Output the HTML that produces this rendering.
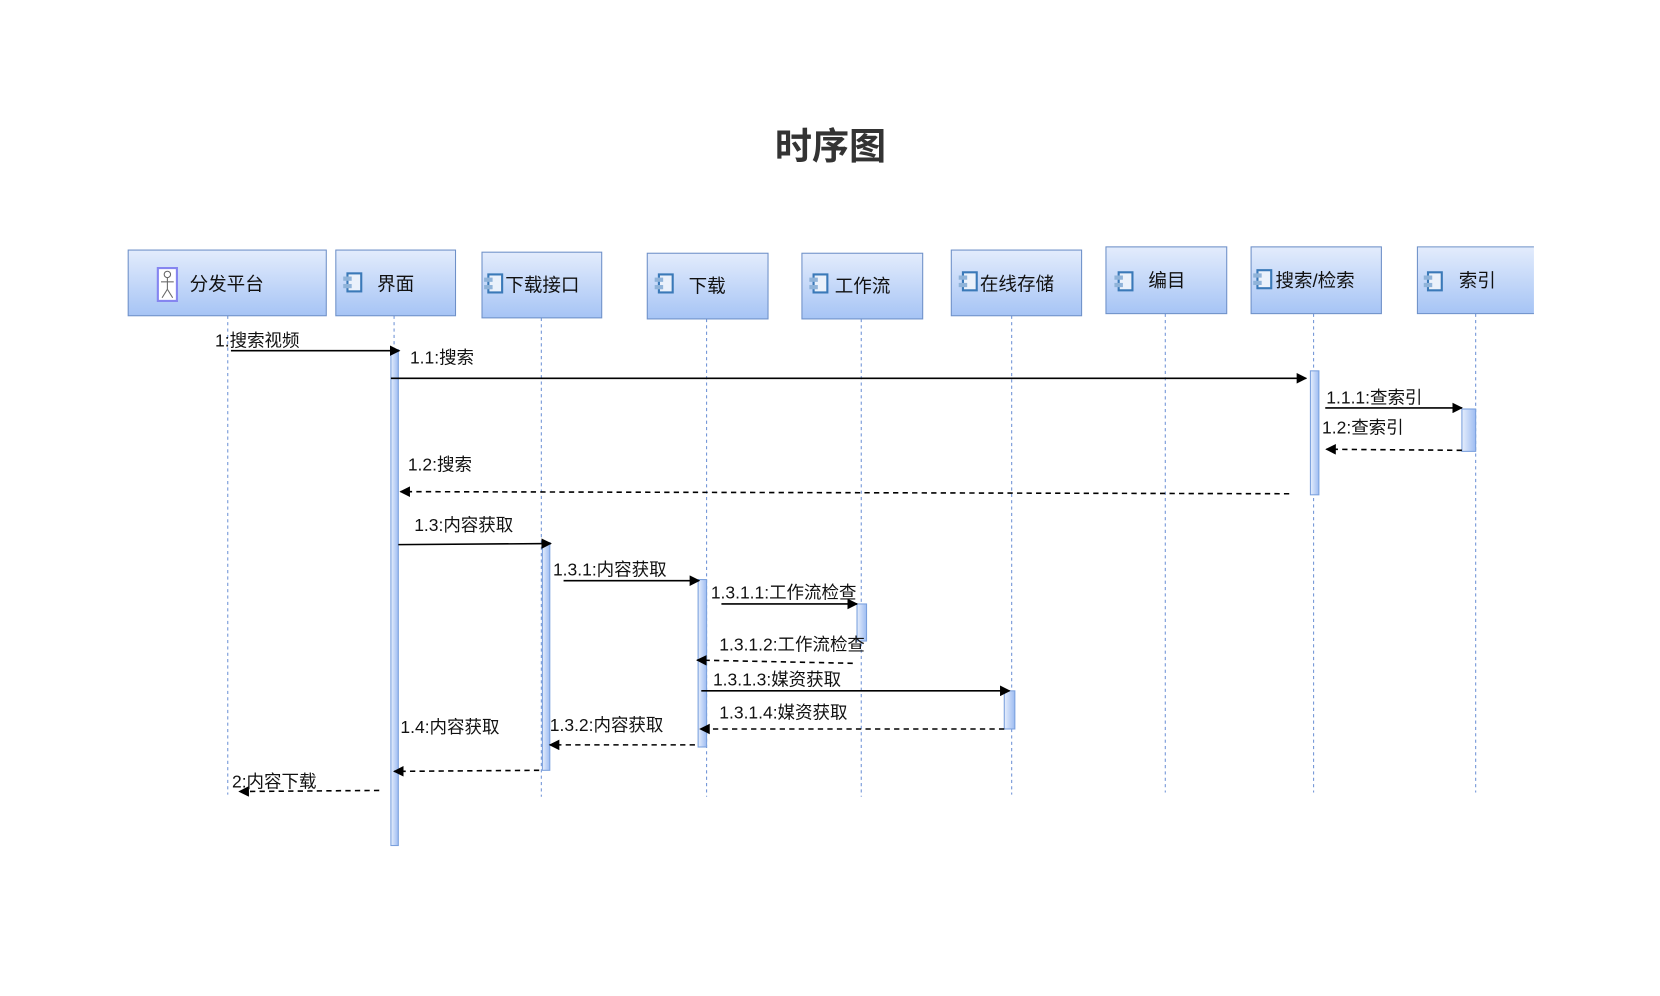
<!DOCTYPE html>
<html><head><meta charset="utf-8"><style>
html,body{margin:0;padding:0;background:#fff;}
svg{display:block;}
text{font-family:"Liberation Sans","Noto Sans CJK SC",sans-serif;}
</style></head><body>
<svg width="1660" height="996" viewBox="0 0 1567 940" preserveAspectRatio="none" xmlns="http://www.w3.org/2000/svg">
<defs>
<linearGradient id="g" x1="0" y1="0" x2="0" y2="1"><stop offset="0" stop-color="#e3ecfc"/><stop offset="1" stop-color="#a6c4f5"/></linearGradient>
<linearGradient id="a" x1="0" y1="0" x2="1" y2="0"><stop offset="0" stop-color="#e6eefc"/><stop offset="1" stop-color="#9dbcf2"/></linearGradient>
<marker id="ar" markerWidth="10" markerHeight="10" refX="9" refY="5" orient="auto" markerUnits="userSpaceOnUse"><path d="M0,0 L10,5 L0,10 z" fill="#000"/></marker>
<g id="ic"><rect x="4" y="0" width="13" height="17" fill="#eaf1fb" stroke="#3a79b8" stroke-width="2"/><rect x="0" y="3" width="8" height="4" fill="#8fb3d9"/><rect x="0" y="10" width="8" height="4" fill="#8fb3d9"/></g>
</defs>
<rect width="1567" height="940" fill="#fff"/>
<text x="784" y="150" font-size="35" font-weight="bold" fill="#333" text-anchor="middle">时序图</text>
<g stroke="#6f93d6" stroke-width="1" stroke-dasharray="3,3">
<line x1="215" y1="298" x2="215" y2="750"/><line x1="372" y1="298" x2="372" y2="750"/><line x1="511" y1="300" x2="511" y2="752"/><line x1="667" y1="301" x2="667" y2="752"/><line x1="813" y1="301" x2="813" y2="752"/><line x1="955" y1="298" x2="955" y2="750"/><line x1="1100" y1="296" x2="1100" y2="748"/><line x1="1240" y1="296" x2="1240" y2="748"/><line x1="1393" y1="296" x2="1393" y2="748"/>
</g>
<g stroke="#6e90c8" stroke-width="1" fill="url(#g)">
<rect x="121" y="236" width="187" height="62"/><rect x="317" y="236" width="113" height="62"/><rect x="455" y="238" width="113" height="62"/><rect x="611" y="239" width="114" height="62"/><rect x="757" y="239" width="114" height="62"/><rect x="898" y="236" width="123" height="62"/><rect x="1044" y="233" width="114" height="63"/><rect x="1181" y="233" width="123" height="63"/><path d="M1448,233 H1338 V296 H1448"/>
</g>
<rect x="149" y="253" width="18" height="31" fill="#fff" stroke="#8585f0" stroke-width="2"/>
<g stroke="#666" fill="none" stroke-width="1"><circle cx="158" cy="259" r="3"/><line x1="158" y1="262" x2="158" y2="273"/><line x1="152" y1="266" x2="164" y2="266"/><line x1="158" y1="273" x2="153" y2="281"/><line x1="158" y1="273" x2="163" y2="281"/></g>
<use href="#ic" x="324" y="258"/><use href="#ic" x="457" y="259"/><use href="#ic" x="618" y="259"/><use href="#ic" x="764" y="259"/><use href="#ic" x="905" y="257"/><use href="#ic" x="1052" y="257"/><use href="#ic" x="1183" y="255"/><use href="#ic" x="1344" y="257"/>
<g font-size="17.5" fill="#111">
<text x="179" y="274">分发平台</text><text x="356" y="274">界面</text><text x="477" y="275">下载接口</text><text x="650" y="276">下载</text><text x="788" y="276">工作流</text><text x="925" y="274">在线存储</text><text x="1084" y="271">编目</text><text x="1204" y="271">搜索/检索</text><text x="1377" y="271">索引</text>
</g>
<g stroke="#7aa0dd" stroke-width="1" fill="url(#a)">
<rect x="369" y="330" width="7" height="468"/><rect x="1237" y="350" width="8" height="117"/><rect x="1380" y="386" width="13" height="40"/><rect x="512" y="512" width="7" height="215"/><rect x="659" y="547" width="8" height="158"/><rect x="809" y="570" width="9" height="35"/><rect x="948" y="652" width="10" height="36"/>
</g>
<g stroke="#000" stroke-width="1.5" fill="none" marker-end="url(#ar)">
<line x1="218" y1="331" x2="377" y2="331"/><line x1="369" y1="357" x2="1233" y2="357"/><line x1="1251" y1="385" x2="1380" y2="385"/><line x1="376" y1="514" x2="520" y2="513"/><line x1="532" y1="548" x2="660" y2="548"/><line x1="681" y1="570" x2="809" y2="570"/><line x1="662" y1="652" x2="953" y2="652"/>
</g>
<g stroke="#000" stroke-width="1.5" fill="none" stroke-dasharray="5,4" marker-end="url(#ar)">
<line x1="1380" y1="425" x2="1252" y2="424"/><line x1="1217" y1="466" x2="378" y2="464"/><line x1="805" y1="626" x2="658" y2="623"/><line x1="948" y1="688" x2="661" y2="688"/><line x1="656" y1="703" x2="519" y2="703"/><line x1="509" y1="727" x2="372" y2="728"/><line x1="358" y1="746" x2="226" y2="747"/>
</g>
<g font-size="16.5" fill="#111">
<text x="203" y="327">1:搜索视频</text><text x="387" y="343">1.1:搜索</text><text x="1252" y="381">1.1.1:查索引</text><text x="1248" y="409">1.2:查索引</text><text x="385" y="444">1.2:搜索</text><text x="391" y="501">1.3:内容获取</text><text x="522" y="543">1.3.1:内容获取</text><text x="671" y="565">1.3.1.1:工作流检查</text><text x="679" y="614">1.3.1.2:工作流检查</text><text x="673" y="647">1.3.1.3:媒资获取</text><text x="679" y="678">1.3.1.4:媒资获取</text><text x="519" y="690">1.3.2:内容获取</text><text x="378" y="692">1.4:内容获取</text><text x="219" y="743">2:内容下载</text>
</g>
</svg>
</body></html>
